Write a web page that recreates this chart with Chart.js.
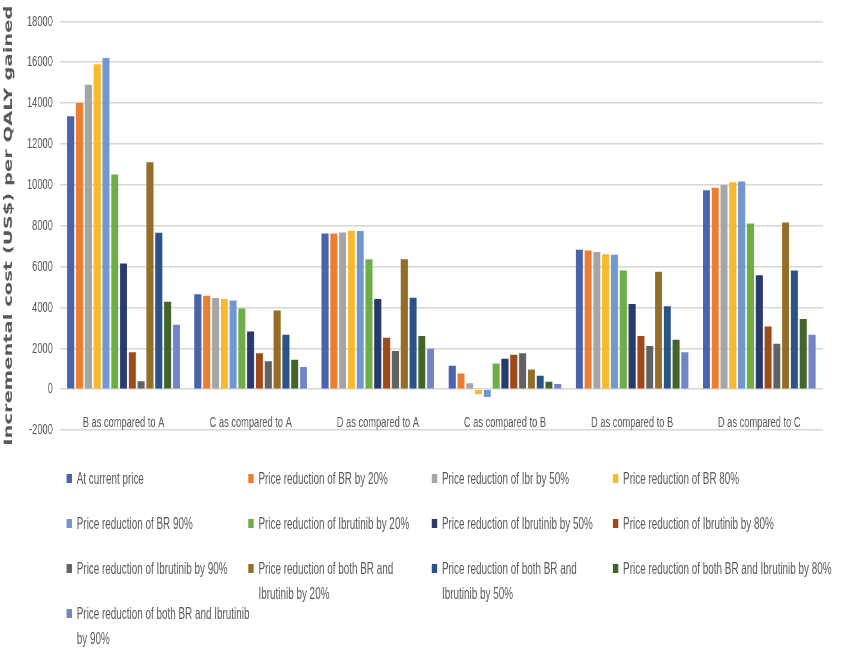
<!DOCTYPE html>
<html lang="en">
<head>
    <meta charset="UTF-8">
    <title>Incremental cost per QALY gained</title>
    <script src="https://cdn.jsdelivr.net/npm/chart.js"></script>
    <style>
        body {
            margin: 0;
            background: #fff;
            overflow: hidden;
        }
        /* the source figure is squeezed horizontally, so the whole thing is laid out wider and scaled */
        .wrap {
            position: relative;
            width: 1404px;
            height: 664px;
            transform: scaleX(0.5997);
            transform-origin: 0 0;
        }
        .chart-box {
            position: absolute;
            left: 0;
            top: 0;
            width: 1404px;
            height: 460px;
        }
        #legend {
            position: absolute;
            left: 111px;
            top: 466px;
            display: grid;
            grid-template-columns: 303px 306px 302px 380px;
            grid-auto-rows: 45px;
            font-family: "Liberation Sans", Arial, sans-serif;
            font-size: 16.5px;
            color: #595959;
            line-height: 25px;
        }
        #legend .item {
            display: flex;
            align-items: flex-start;
        }
        #legend .box {
            flex: none;
            width: 9px;
            height: 9px;
            margin: 8px 8px 0 0;
        }
        #legend .txt {
            flex: none;
            max-width: 262px;
        }
        #legend .item:nth-child(4n+1) .txt {
            max-width: 306px;
        }
        #legend .item:nth-child(4n) .txt {
            max-width: 370px;
        }
    </style>
</head>
<body>
<div class="wrap">
    <div class="chart-box"><canvas id="icerChart"></canvas></div>
    <div id="legend"></div>
</div>

<script>
    const categories = ['B as compared to A', 'C as compared to A', 'D as compared to A',
        'C as compared to B', 'D as compared to B', 'D as compared to C'];

    const series = [
        'At current price',
        'Price reduction of BR by 20%',
        'Price reduction of Ibr by 50%',
        'Price reduction of BR 80%',
        'Price reduction of BR 90%',
        'Price reduction of Ibrutinib by 20%',
        'Price reduction of Ibrutinib by 50%',
        'Price reduction of Ibrutinib by 80%',
        'Price reduction of Ibrutinib by 90%',
        'Price reduction of both BR and Ibrutinib by 20%',
        'Price reduction of both BR and Ibrutinib by 50%',
        'Price reduction of both BR and Ibrutinib by 80%',
        'Price reduction of both BR and Ibrutinib by 90%'
    ];

    // one array per comparison, in the order of the series above
    const bVsA = [13350, 14000, 14900, 15900, 16200, 10500, 6150, 1800, 380, 11100, 7650, 4280, 3150];
    const cVsA = [4640, 4570, 4460, 4410, 4340, 3940, 2820, 1750, 1360, 3850, 2660, 1440, 1080];
    const dVsA = [7610, 7610, 7670, 7750, 7740, 6350, 4410, 2510, 1860, 6350, 4470, 2600, 1980];
    const cVsB = [1140, 770, 290, -250, -390, 1260, 1490, 1680, 1750, 960, 650, 360, 250];
    const dVsB = [6820, 6780, 6710, 6600, 6580, 5810, 4160, 2600, 2110, 5750, 4050, 2420, 1810];
    const dVsC = [9730, 9850, 9990, 10120, 10160, 8100, 5570, 3070, 2220, 8160, 5800, 3430, 2660];

    const yTicks = [-2000, 0, 2000, 4000, 6000, 8000, 10000, 12000, 14000, 16000, 18000];

    const colores = ['#4a63aa', '#ed7d31', '#a5a5a5', '#f9b92e', '#7197d1', '#6fad47', '#273b6f',
        '#9e4a1a', '#626262', '#946d28', '#2c5389', '#43652c', '#7384c6'];

    const groups = [bVsA, cVsA, dVsA, cVsB, dVsB, dVsC];
    const sans = '"Liberation Sans", Arial, sans-serif';

    const datasets = series.map((nome, i) => ({
        label: nome,
        data: groups.map(g => g[i]),
        backgroundColor: colores[i],
        categoryPercentage: 0.9,
        barPercentage: 0.8
    }));

    // legenda em HTML (o legend do Chart.js nao quebra linhas)
    const htmlLegend = {
        id: 'htmlLegend',
        afterUpdate(chart) {
            const el = document.getElementById('legend');
            el.innerHTML = '';
            chart.data.datasets.forEach(ds => {
                const item = document.createElement('div');
                item.className = 'item';
                const box = document.createElement('span');
                box.className = 'box';
                box.style.background = ds.backgroundColor;
                const txt = document.createElement('span');
                txt.className = 'txt';
                txt.textContent = ds.label;
                item.appendChild(box);
                item.appendChild(txt);
                el.appendChild(item);
            });
        }
    };

    new Chart(document.getElementById('icerChart'), {
        type: 'bar',
        data: {labels: categories, datasets: datasets},
        plugins: [htmlLegend],
        options: {
            responsive: true,
            maintainAspectRatio: false,
            animation: false,
            layout: {padding: {top: 18, right: 32, bottom: 30, left: 0}},
            plugins: {
                legend: {display: false},
                tooltip: {enabled: false}
            },
            scales: {
                x: {
                    position: {y: 0},
                    grid: {display: false, drawTicks: false},
                    border: {display: false},
                    ticks: {
                        padding: 24,
                        color: '#595959',
                        font: {family: sans, size: 15.5}
                    }
                },
                y: {
                    min: -2000,
                    max: 18000,
                    afterBuildTicks: scale => {
                        scale.ticks = yTicks.map(v => ({value: v}));
                    },
                    afterFit: scale => {
                        scale.width = 100;
                    },
                    grid: {color: '#d9d6d2', lineWidth: 1.5, drawTicks: false},
                    border: {display: false},
                    ticks: {
                        padding: 12,
                        color: '#595959',
                        font: {family: sans, size: 15.5},
                        callback: v => String(v)
                    },
                    title: {
                        display: true,
                        text: 'Incremental cost (US$) per QALY gained',
                        color: '#595959',
                        padding: {top: 3, bottom: 0},
                        font: {family: '"DejaVu Sans", Verdana, sans-serif', size: 19.5, weight: 'bold'}
                    }
                }
            }
        }
    });
</script>
</body>
</html>
